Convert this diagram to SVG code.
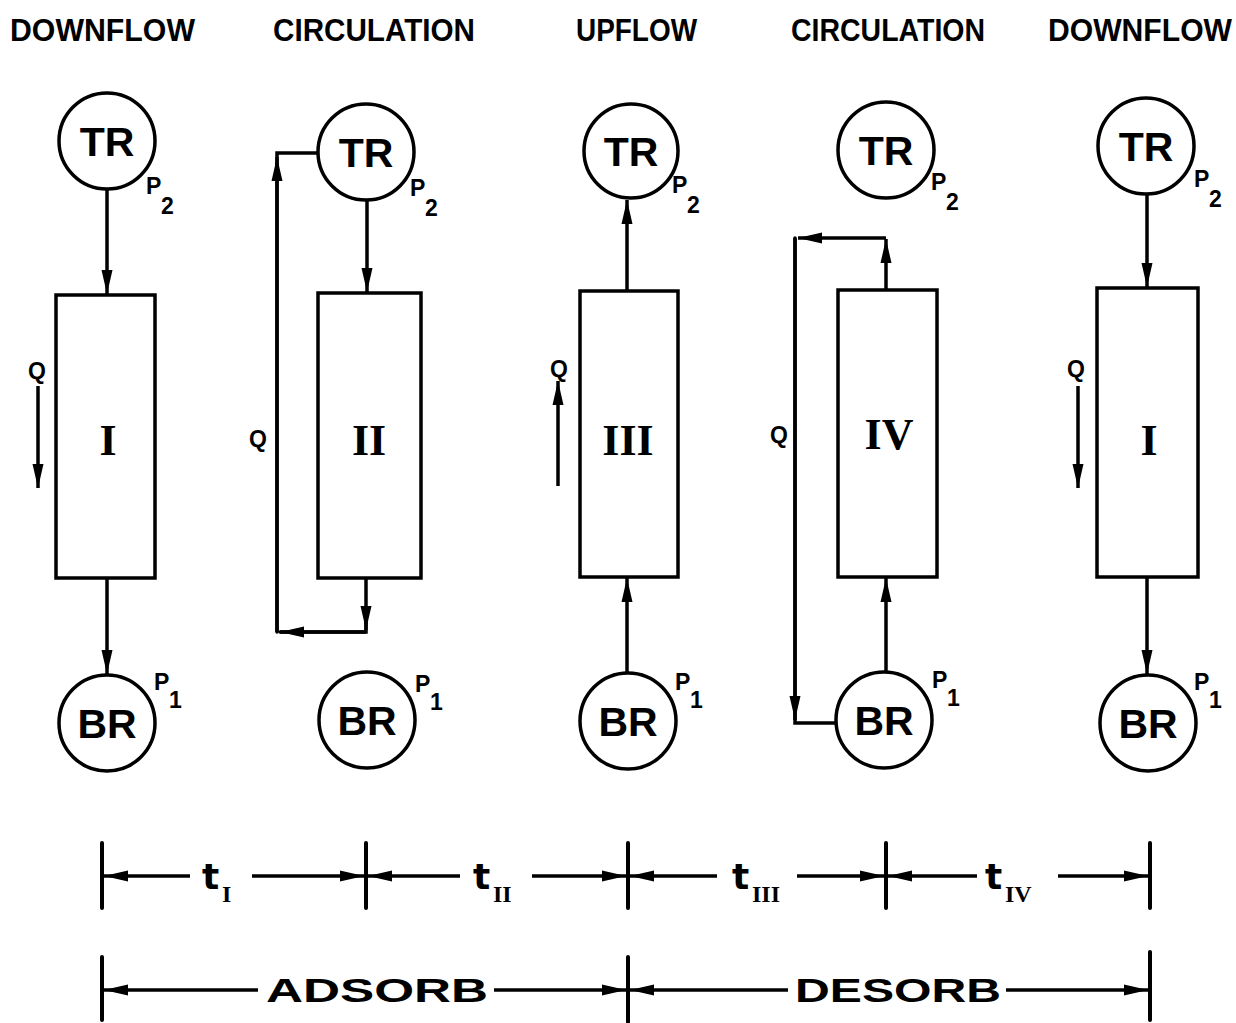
<svg xmlns="http://www.w3.org/2000/svg" width="1236" height="1023" viewBox="0 0 1236 1023">
<style>
.bg{fill:#fff}
.hd{font-family:"Liberation Sans",Arial,sans-serif;font-weight:bold;font-size:31px;fill:#000}
.node{fill:#fff;stroke:#000;stroke-width:3.5}
.lab{font-family:"Liberation Sans",Arial,sans-serif;font-weight:bold;font-size:41px;fill:#000;text-anchor:middle}
.p{font-family:"Liberation Sans",Arial,sans-serif;font-weight:bold;font-size:23px;fill:#000}
.q{font-family:"Liberation Sans",Arial,sans-serif;font-weight:bold;font-size:23px;fill:#000;text-anchor:middle}
.rn{font-family:"Liberation Serif","Times New Roman",serif;font-weight:bold;font-size:44px;fill:#000;text-anchor:middle}
.c{fill:none;stroke:#000;stroke-width:3.5;stroke-linecap:round}
.ca{fill:none;stroke:#000;stroke-width:3.5;marker-end:url(#ah)}
.tk{stroke:#000;stroke-width:4;stroke-linecap:round}
.tl{fill:none;stroke:#000;stroke-width:3.5;marker-end:url(#ah)}
.tt{font-family:"DejaVu Sans","Liberation Sans",sans-serif;font-weight:bold;font-size:36px;fill:#000}
.ts{font-family:"Liberation Serif","Times New Roman",serif;font-weight:bold;font-size:24px;fill:#000}
.big{font-family:"Liberation Sans",Arial,sans-serif;font-weight:bold;font-size:33px;fill:#000}
</style>
<defs>
<marker id="ah" markerUnits="userSpaceOnUse" markerWidth="26" markerHeight="14" refX="24" refY="7" orient="auto" viewBox="0 0 26 14">
<path d="M0,1.5 L24,7 L0,12.5 z" fill="#000"/>
</marker>
</defs>
<rect class="bg" x="0" y="0" width="1236" height="1023"/>

<g id="headers">
<text class="hd" x="10" y="41" textLength="185" lengthAdjust="spacingAndGlyphs">DOWNFLOW</text>
<text class="hd" x="273" y="41" textLength="202" lengthAdjust="spacingAndGlyphs">CIRCULATION</text>
<text class="hd" x="576" y="41" textLength="121" lengthAdjust="spacingAndGlyphs">UPFLOW</text>
<text class="hd" x="791" y="41" textLength="194" lengthAdjust="spacingAndGlyphs">CIRCULATION</text>
<text class="hd" x="1048" y="41" textLength="184" lengthAdjust="spacingAndGlyphs">DOWNFLOW</text>
</g>

<g id="connectors">
<!-- column 1 -->
<path class="ca" d="M107,190 V294"/>
<path class="ca" d="M107,578 V674"/>
<path class="ca" d="M38,386 V488"/>
<!-- column 2 -->
<path class="ca" d="M367,200 V292"/>
<path class="ca" d="M366,578 V630"/>
<path class="ca" d="M366,632 H280"/>
<path class="ca" d="M277,632 V157"/>
<path class="c" d="M277,632 V153 H317"/>
<path class="c" d="M366,620 V632 H280"/>
<!-- column 3 -->
<path class="ca" d="M627,291 V200"/>
<path class="ca" d="M627,673 V578"/>
<path class="ca" d="M558,486 V381"/>
<!-- column 4 -->
<path class="ca" d="M886,290 V239"/>
<path class="ca" d="M886,238 H798"/>
<path class="ca" d="M795,238 V720"/>
<path class="c" d="M795,238 V723 H836"/>
<path class="ca" d="M886,672 V578"/>
<!-- column 5 -->
<path class="ca" d="M1147,195 V287"/>
<path class="ca" d="M1147,577 V674"/>
<path class="ca" d="M1078,386 V488"/>
</g>

<g id="col1">
<g id="TR1"><circle class="node" cx="107" cy="141" r="48"/><text class="lab" x="107" y="156">TR</text><text class="p" x="146" y="194">P</text><text class="p" x="161" y="214">2</text></g>
<g id="bed1"><rect class="node" x="56" y="295" width="99" height="283"/><text class="rn" x="108" y="455">I</text></g>
<g id="BR1"><circle class="node" cx="107" cy="723" r="48"/><text class="lab" x="107" y="738">BR</text><text class="p" x="154" y="690">P</text><text class="p" x="169" y="708">1</text></g>
<text class="q" x="37" y="379">Q</text>
</g>

<g id="col2">
<g id="TR2"><circle class="node" cx="366" cy="152" r="48"/><text class="lab" x="366" y="167">TR</text><text class="p" x="410" y="196">P</text><text class="p" x="425" y="216">2</text></g>
<g id="bed2"><rect class="node" x="318" y="293" width="103" height="285"/><text class="rn" x="369" y="455">II</text></g>
<g id="BR2"><circle class="node" cx="367" cy="720" r="48"/><text class="lab" x="367" y="735">BR</text><text class="p" x="415" y="692">P</text><text class="p" x="430" y="710">1</text></g>
<text class="q" x="258" y="447">Q</text>
</g>

<g id="col3">
<g id="TR3"><circle class="node" cx="631" cy="151" r="47"/><text class="lab" x="631" y="166">TR</text><text class="p" x="672" y="193">P</text><text class="p" x="687" y="213">2</text></g>
<g id="bed3"><rect class="node" x="580" y="291" width="98" height="286"/><text class="rn" x="628" y="455">III</text></g>
<g id="BR3"><circle class="node" cx="628" cy="721" r="48"/><text class="lab" x="628" y="736">BR</text><text class="p" x="675" y="690">P</text><text class="p" x="690" y="708">1</text></g>
<text class="q" x="559" y="377">Q</text>
</g>

<g id="col4">
<g id="TR4"><circle class="node" cx="886" cy="150" r="48"/><text class="lab" x="886" y="165">TR</text><text class="p" x="931" y="190">P</text><text class="p" x="946" y="210">2</text></g>
<g id="bed4"><rect class="node" x="838" y="290" width="99" height="287"/><text class="rn" x="889" y="449">IV</text></g>
<g id="BR4"><circle class="node" cx="884" cy="720" r="48"/><text class="lab" x="884" y="735">BR</text><text class="p" x="932" y="688">P</text><text class="p" x="947" y="706">1</text></g>
<text class="q" x="779" y="443">Q</text>
</g>

<g id="col5">
<g id="TR5"><circle class="node" cx="1146" cy="146" r="48"/><text class="lab" x="1146" y="161">TR</text><text class="p" x="1194" y="187">P</text><text class="p" x="1209" y="207">2</text></g>
<g id="bed5"><rect class="node" x="1097" y="288" width="101" height="289"/><text class="rn" x="1149" y="455">I</text></g>
<g id="BR5"><circle class="node" cx="1148" cy="723" r="48"/><text class="lab" x="1148" y="738">BR</text><text class="p" x="1194" y="690">P</text><text class="p" x="1209" y="708">1</text></g>
<text class="q" x="1076" y="377">Q</text>
</g>

<g id="timeline">
<line class="tk" x1="102" y1="843" x2="102" y2="908"/>
<line class="tk" x1="366" y1="843" x2="366" y2="908"/>
<line class="tk" x1="628" y1="843" x2="628" y2="908"/>
<line class="tk" x1="886" y1="843" x2="886" y2="908"/>
<line class="tk" x1="1150" y1="843" x2="1150" y2="908"/>
<path class="tl" d="M190,876 H104"/>
<path class="tl" d="M252,876 H364"/>
<path class="tl" d="M460,876 H368"/>
<path class="tl" d="M532,876 H626"/>
<path class="tl" d="M717,876 H630"/>
<path class="tl" d="M797,876 H884"/>
<path class="tl" d="M977,876 H888"/>
<path class="tl" d="M1058,876 H1148"/>
<text class="tt" x="202" y="889">t</text><text class="ts" x="222" y="902">I</text>
<text class="tt" x="473" y="889">t</text><text class="ts" x="493" y="902">II</text>
<text class="tt" x="732" y="889">t</text><text class="ts" x="752" y="902">III</text>
<text class="tt" x="985" y="889">t</text><text class="ts" x="1005" y="902">IV</text>

<line class="tk" x1="102" y1="957" x2="102" y2="1020"/>
<line class="tk" x1="628" y1="957" x2="628" y2="1022"/>
<line class="tk" x1="1150" y1="952" x2="1150" y2="1020"/>
<path class="tl" d="M258,990 H104"/>
<path class="tl" d="M494,990 H626"/>
<path class="tl" d="M788,990 H630"/>
<path class="tl" d="M1006,990 H1148"/>
<text class="big" x="266" y="1002" textLength="222" lengthAdjust="spacingAndGlyphs">ADSORB</text>
<text class="big" x="795" y="1002" textLength="206" lengthAdjust="spacingAndGlyphs">DESORB</text>
</g>
</svg>
